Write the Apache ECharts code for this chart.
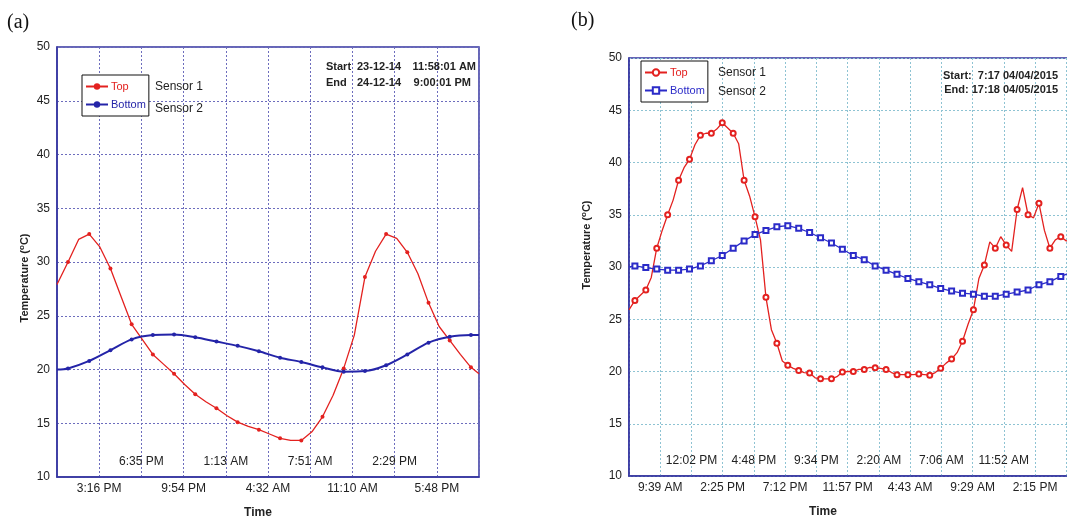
<!DOCTYPE html>
<html>
<head>
<meta charset="utf-8">
<script src="https://cdn.jsdelivr.net/npm/echarts@6/dist/echarts.min.js"></script>
<style>
  html, body { margin: 0; padding: 0; background: #fff; }
  #chart { width: 1067px; height: 520px; }
</style>
</head>
<body>
<div id="chart"></div>
<script>
// panel (a): minutes after 11:57 AM, 23-12-14
var ticksA = ['', '3:16 PM', '6:35 PM', '9:54 PM', '1:13 AM', '4:32 AM', '7:51 AM', '11:10 AM', '2:29 PM', '5:48 PM', ''];
var timeA_top = [0, 52, 102, 152, 202, 252, 302, 352, 402, 452, 502, 552, 602, 652, 702, 752, 802, 852, 902, 952,
                 1002, 1052, 1102, 1152, 1202, 1252, 1302, 1352, 1402, 1452, 1502, 1552, 1602, 1652, 1702, 1752,
                 1802, 1852, 1902, 1952, 1990];
var tempA_top = [27.9, 30.0, 32.1, 32.6, 31.4, 29.4, 26.8, 24.2, 22.8, 21.4, 20.5, 19.6, 18.6, 17.7, 17.0, 16.4,
                 15.7, 15.1, 14.7, 14.4, 14.0, 13.6, 13.4, 13.4, 14.2, 15.6, 17.6, 20.1, 23.2, 28.6, 31.0, 32.6,
                 32.2, 30.9, 28.9, 26.2, 24.0, 22.7, 21.4, 20.2, 19.6];
var timeA_bottom = [0, 52, 152, 252, 352, 452, 552, 652, 752, 852, 952, 1052, 1152, 1252, 1352, 1452, 1552, 1652,
                    1752, 1852, 1952, 1990];
var tempA_bottom = [20.0, 20.1, 20.8, 21.8, 22.8, 23.2, 23.25, 23.0, 22.6, 22.2, 21.7, 21.1, 20.7, 20.2, 19.8,
                    19.85, 20.4, 21.4, 22.5, 23.05, 23.2, 23.2];

// panel (b): minutes after 7:16 AM, 04/04/2015
var ticksB = ['', '9:39 AM', '12:02 PM', '2:25 PM', '4:48 PM', '7:12 PM', '9:34 PM', '11:57 PM', '2:20 AM',
              '4:43 AM', '7:06 AM', '9:29 AM', '11:52 AM', '2:15 PM', ''];
var timeB_top = [0, 27, 52, 77, 102, 127, 152, 177, 202, 227, 252, 277, 302, 327, 352, 377, 402, 427, 452, 477,
                 502, 527, 552, 577, 602, 627, 652, 677, 702, 727, 752, 777, 802, 827, 852, 877, 902, 927, 952, 977,
                 1002, 1027, 1052, 1077, 1102, 1127, 1152, 1177, 1202, 1227, 1252, 1277, 1302, 1327, 1352, 1377,
                 1402, 1427, 1452, 1477, 1502, 1527, 1552, 1577, 1602, 1627, 1652, 1677, 1702, 1727, 1752, 1777,
                 1802, 1827, 1852, 1877, 1902, 1927, 1952, 1977, 2002, 2027];
var tempB_top = [25.9, 26.8, 27.3, 27.8, 29.0, 31.8, 33.5, 35.0, 36.4, 38.3, 39.5, 40.3, 41.7, 42.6, 42.8, 42.8,
                 43.2, 43.8, 43.3, 42.8, 41.8, 38.3, 36.8, 34.8, 32.6, 27.1, 24.0, 22.7, 21.0, 20.6, 20.3, 20.1,
                 19.9, 19.85, 19.4, 19.3, 19.3, 19.3, 19.5, 19.95, 20.0, 20.0, 20.2, 20.2, 20.4, 20.35, 20.3, 20.2,
                 19.9, 19.7, 19.7, 19.7, 19.7, 19.75, 19.7, 19.65, 19.9, 20.3, 20.8, 21.2, 21.8, 22.9, 24.5, 25.9,
                 28.9, 30.2, 32.4, 31.8, 32.9, 32.1, 31.5, 35.5, 37.6, 35.0, 34.7, 36.1, 33.5, 31.8, 32.6, 32.9,
                 32.5, 32.5];
var timeB_bottom = [0, 27, 77, 127, 177, 227, 277, 327, 377, 427, 477, 527, 577, 627, 677, 727, 777, 827, 877, 927,
                    977, 1027, 1077, 1127, 1177, 1227, 1277, 1327, 1377, 1427, 1477, 1527, 1577, 1627, 1677, 1727,
                    1777, 1827, 1877, 1927, 1977, 2027];
var tempB_bottom = [30.0, 30.1, 29.95, 29.8, 29.7, 29.7, 29.8, 30.1, 30.6, 31.1, 31.8, 32.5, 33.1, 33.5, 33.85,
                    33.95, 33.7, 33.3, 32.8, 32.3, 31.7, 31.1, 30.7, 30.1, 29.7, 29.3, 28.9, 28.6, 28.3, 27.95,
                    27.7, 27.5, 27.4, 27.2, 27.2, 27.4, 27.6, 27.8, 28.3, 28.6, 29.1, 29.5];

var RED = '#e3211f', BLUE_A = '#2424a8', BLUE_B = '#2b2bc8', NAVY = '#3434a0';
var FONT = '"Liberation Sans", Arial, sans-serif';
var ZW = '\u200b'; // keeps panel (b) legend entries apart from panel (a)

function pairs(t, v) {
    var d = [];
    for (var i = 0; i < t.length; i++) d.push([t[i], v[i]]);
    return d;
}

function xAxes(grid, max, step, ticks, gridColor, nameShift) {
    var lab = {fontSize: 12, color: '#222', fontFamily: FONT};
    return [
        {
            gridIndex: grid, type: 'value', min: 0, max: max, interval: step,
            axisLine: {lineStyle: {color: NAVY, width: 1.5}},
            axisTick: {show: false},
            axisLabel: Object.assign({margin: 6, formatter: function (v) {
                var i = Math.round(v / step);
                return i % 2 === 1 ? (ticks[i] || '') : '';
            }}, lab),
            splitLine: {show: true, lineStyle: {type: [2, 2], color: gridColor, width: 1}},
            name: 'Time', nameLocation: 'middle', nameGap: 30,
            nameTextStyle: {fontWeight: 'bold', fontSize: 12, color: '#222', fontFamily: FONT,
                            padding: [0, nameShift, 0, 0]}
        },
        {
            gridIndex: grid, type: 'value', min: 0, max: max, interval: step, position: 'bottom',
            axisLine: {show: false}, axisTick: {show: false}, splitLine: {show: false},
            axisLabel: Object.assign({inside: true, margin: 9, formatter: function (v) {
                var i = Math.round(v / step);
                return i % 2 === 0 ? (ticks[i] || '') : '';
            }}, lab)
        }
    ];
}

function yAxis(grid, gridColor, gap, pad) {
    return {
        gridIndex: grid, type: 'value', min: 10, max: 50, interval: 5,
        axisLine: {show: true, lineStyle: {color: NAVY, width: 1.5}},
        axisTick: {show: false},
        axisLabel: {fontSize: 12, color: '#222', fontFamily: FONT, margin: 7},
        splitLine: {show: true, lineStyle: {type: [2, 2], color: gridColor, width: 1}},
        name: 'Temperature ({sup|o}C)', nameLocation: 'middle', nameGap: gap,
        nameTextStyle: {fontWeight: 'bold', fontSize: 11, color: '#222', fontFamily: FONT, padding: pad,
                        rich: {sup: {fontSize: 8, fontWeight: 'bold', fontFamily: FONT, color: '#222',
                                     verticalAlign: 'top', padding: [0, 0, 5, 0]}}}
    };
}

var markA = function (v) { return (v[0] - 52) % 100 === 0 ? 4 : 0; };
var markB = function (v) { return (v[0] - 27) % 50 === 0 ? 5 : 0; };

function legendBox(left, top, suffix, blue) {
    return {
        orient: 'vertical', left: left, top: top, selectedMode: false,
        itemWidth: 22, itemHeight: 8, itemGap: 7, padding: [6, 3, 6, 3],
        borderColor: '#111', borderWidth: 1, backgroundColor: '#fff',
        textStyle: {fontSize: 11, fontFamily: FONT, padding: [0, 0, 0, -2]},
        formatter: function (n) { return n.replace(ZW, ''); },
        data: [{name: 'Top' + suffix, textStyle: {color: RED}}, {name: 'Bottom' + suffix, textStyle: {color: blue}}]
    };
}

function txt(x, y, s, opts) {
    opts = opts || {};
    return {
        type: 'text', x: x, y: y, z: 100,
        style: {text: s, fill: opts.fill || '#222', textAlign: opts.align || 'left', textVerticalAlign: 'middle',
                font: opts.font || ('12px ' + FONT)}
    };
}

var chart = echarts.init(document.getElementById('chart'));
var bold = 'bold 11px ' + FONT;

var option = {
    animation: false,
    backgroundColor: '#fff',
    grid: [
        {left: 57, top: 47, width: 422, height: 430, show: true, borderColor: NAVY, borderWidth: 1.5,
         containLabel: false, outerBoundsMode: 'none'},
        {left: 629, top: 58, width: 446, height: 418, show: true, borderColor: NAVY, borderWidth: 1.5,
         containLabel: false, outerBoundsMode: 'none'}
    ],
    xAxis: xAxes(0, 1990, 199, ticksA, '#6d6dbd', 20).concat(xAxes(1, 2042, 143, ticksB, '#8ec3d3', 58)),
    yAxis: [yAxis(0, '#6d6dbd', 26, [0, 32, 0, 0]), yAxis(1, '#8ec3d3', 36, [0, 0, 0, 44])],
    legend: [legendBox(82, 75, '', BLUE_A), legendBox(641, 61, ZW, BLUE_B)],
    graphic: [
        txt(7, 23, '(a)', {font: '20px "Liberation Serif", "Times New Roman", serif', fill: '#111'}),
        txt(571, 21, '(b)', {font: '20px "Liberation Serif", "Times New Roman", serif', fill: '#111'}),
        txt(155, 87, 'Sensor 1'), txt(155, 109, 'Sensor 2'),
        txt(718, 73, 'Sensor 1'), txt(718, 92, 'Sensor 2'),
        txt(326, 67, 'Start', {font: bold}), txt(357, 67, '23-12-14', {font: bold}),
        txt(476, 67, '11:58:01 AM', {font: bold, align: 'right'}),
        txt(326, 83, 'End', {font: bold}), txt(357, 83, '24-12-14', {font: bold}),
        txt(471, 83, '9:00:01 PM', {font: bold, align: 'right'}),
        txt(1058, 76, 'Start:  7:17 04/04/2015', {font: bold, align: 'right'}),
        txt(1058, 90, 'End: 17:18 04/05/2015', {font: bold, align: 'right'})
    ],
    series: [
        {
            name: 'Top', type: 'line', xAxisIndex: 0, yAxisIndex: 0,
            data: pairs(timeA_top, tempA_top), symbol: 'circle', symbolSize: markA, showAllSymbol: true,
            lineStyle: {color: RED, width: 1.3}, itemStyle: {color: RED}
        },
        {
            name: 'Bottom', type: 'line', xAxisIndex: 0, yAxisIndex: 0, smooth: 0.3,
            data: pairs(timeA_bottom, tempA_bottom), symbol: 'circle', symbolSize: markA, showAllSymbol: true,
            lineStyle: {color: BLUE_A, width: 2}, itemStyle: {color: BLUE_A}
        },
        {
            name: 'Top' + ZW, type: 'line', xAxisIndex: 2, yAxisIndex: 1,
            data: pairs(timeB_top, tempB_top), symbol: 'emptyCircle', symbolSize: markB, showAllSymbol: true,
            lineStyle: {color: RED, width: 1.3}, itemStyle: {color: RED, borderWidth: 1}
        },
        {
            name: 'Bottom' + ZW, type: 'line', xAxisIndex: 2, yAxisIndex: 1,
            data: pairs(timeB_bottom, tempB_bottom), symbol: 'emptyRect', symbolSize: markB, showAllSymbol: true,
            lineStyle: {color: BLUE_B, width: 1.3}, itemStyle: {color: BLUE_B, borderWidth: 1}
        }
    ]
};
chart.setOption(option);
</script>
</body>
</html>
